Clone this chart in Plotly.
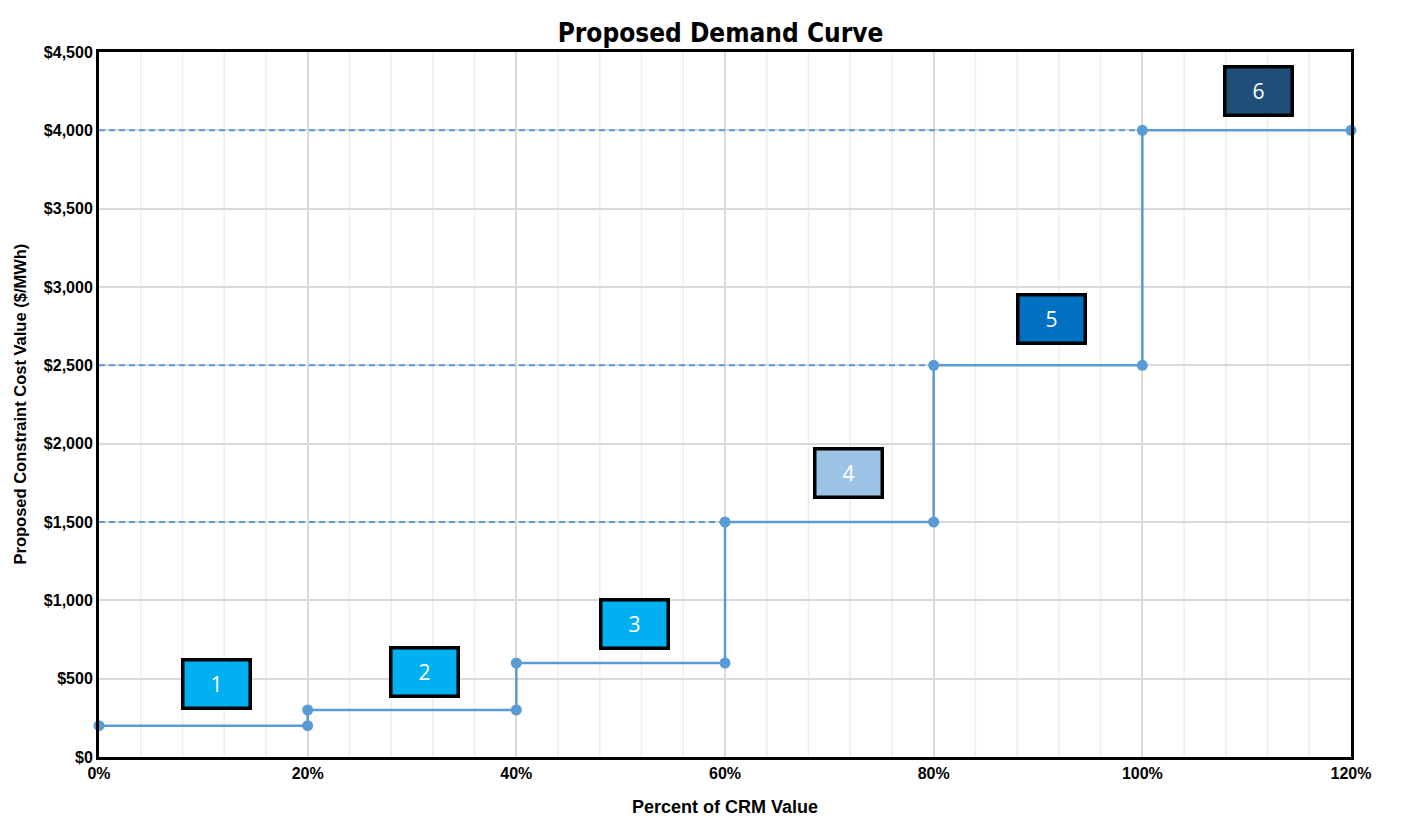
import plotly.graph_objects as go

step_x = [0, 20, 20, 40, 40, 60, 60, 80, 80, 100, 100, 120]
step_y = [200, 200, 300, 300, 600, 600, 1500, 1500, 2500, 2500, 4000, 4000]

ref_levels = [4000, 2500, 1500]
ref_ends = [100, 80, 60]

box_labels = ["1", "2", "3", "4", "5", "6"]
box_x = [11.3, 31.2, 51.3, 71.8, 91.3, 111.1]
box_y = [466, 542, 849, 1813, 2796, 4251]
box_colors = ["#00B0F0", "#00B0F0", "#00B0F0", "#9DC3E6", "#0070C0", "#1F4E79"]

x_ticks = [0, 20, 40, 60, 80, 100, 120]
x_tick_text = ["0%", "20%", "40%", "60%", "80%", "100%", "120%"]
x_minor = [4, 8, 12, 16, 24, 28, 32, 36, 44, 48, 52, 56, 64, 68, 72, 76,
           84, 88, 92, 96, 104, 108, 112, 116]
y_ticks = [0, 500, 1000, 1500, 2000, 2500, 3000, 3500, 4000, 4500]
y_tick_text = ["$0", "$500", "$1,000", "$1,500", "$2,000", "$2,500", "$3,000", "$3,500", "$4,000", "$4,500"]

LINE = "#5B9BD5"
fig = go.Figure()

for v in x_minor:
    fig.add_shape(type="line", xref="x", yref="paper", x0=v, x1=v, y0=0, y1=1,
                  line=dict(color="#EDEDED", width=1.5), layer="below")

for lvl, end in zip(ref_levels, ref_ends):
    fig.add_trace(go.Scatter(x=[0, end], y=[lvl, lvl], mode="lines",
                             line=dict(color=LINE, width=2, dash="6px,4px"),
                             showlegend=False, hoverinfo="skip"))

fig.add_trace(go.Scatter(x=step_x, y=step_y, mode="lines+markers",
                         line=dict(color=LINE, width=2.5),
                         marker=dict(color=LINE, size=11),
                         showlegend=False, cliponaxis=False))

for lab, bx, by, col in zip(box_labels, box_x, box_y, box_colors):
    fig.add_annotation(x=bx, y=by, text=lab, showarrow=False,
                       bgcolor=col, bordercolor="black", borderwidth=3.5,
                       width=62, height=43, align="center", valign="middle",
                       font=dict(color="white", size=21, family="Open Sans"))

font_fam = "Liberation Sans, Arial, sans-serif"

fig.add_annotation(xref="paper", yref="paper", x=0, y=0.5, xshift=-80,
                   text="<b>Proposed Constraint Cost Value ($/MWh)</b>", textangle=-90,
                   showarrow=False, xanchor="center", yanchor="middle",
                   font=dict(size=16.5, color="black", family=font_fam))

fig.update_layout(
    width=1425, height=830,
    margin=dict(l=91, r=82, t=44, b=81),
    plot_bgcolor="white", paper_bgcolor="white",
    title=dict(text="<b>Proposed Demand Curve</b>", x=0.5, xanchor="center",
               y=0.97, yanchor="middle",
               font=dict(size=26, color="black", family="DejaVu Sans Condensed")),
    xaxis=dict(range=[0, 120], tickvals=x_ticks,
               ticktext=["<b>" + t + "</b>" for t in x_tick_text],
               showgrid=True, gridcolor="#D9D9D9", gridwidth=1.5,
               showline=True, linecolor="black", linewidth=3, mirror=True,
               ticks="", zeroline=False, automargin=False,
               tickfont=dict(size=16, color="black", family=font_fam),
               title=dict(text="<b>Percent of CRM Value</b>", standoff=20,
                          font=dict(size=18, color="black", family=font_fam))),
    yaxis=dict(range=[0, 4500], tickvals=y_ticks,
               ticktext=["<b>" + t + "</b>" for t in y_tick_text],
               showgrid=True, gridcolor="#D9D9D9", gridwidth=1.5,
               showline=True, linecolor="black", linewidth=3, mirror=True,
               ticks="", zeroline=False, automargin=False,
               tickfont=dict(size=16, color="black", family=font_fam)),
)

fig.write_html("out.html")
